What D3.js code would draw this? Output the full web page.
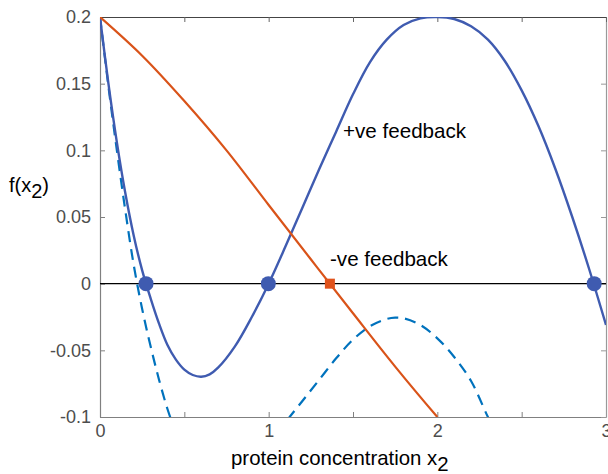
<!DOCTYPE html>
<html>
<head>
<meta charset="utf-8">
<script src="https://cdn.jsdelivr.net/npm/d3@7"></script>
<style>
  html, body { margin: 0; padding: 0; background: #fff; }
  svg { display: block; }
  text { font-family: "Liberation Sans", Arial, Helvetica, sans-serif; }
</style>
</head>
<body>
<svg id="chart" width="608" height="474"></svg>
<script>
// ---- data ----
const posX = [0, 0.05, 0.1, 0.15, 0.2, 0.25, 0.3, 0.35, 0.4, 0.45, 0.5, 0.55, 0.6, 0.65, 0.7, 0.8, 0.9, 1.0, 1.1, 1.2, 1.3, 1.4, 1.5, 1.6, 1.7, 1.8, 1.9, 2.0, 2.1, 2.2, 2.3, 2.4, 2.5, 2.6, 2.7, 2.8, 2.9, 3.0];
const posY = [0.2, 0.150, 0.106, 0.068, 0.036, 0.010, -0.011, -0.030, -0.046, -0.057, -0.0645, -0.0685, -0.0698, -0.068, -0.063, -0.047, -0.025, 0.0, 0.028, 0.057, 0.086, 0.114, 0.142, 0.166, 0.183, 0.194, 0.199, 0.200, 0.1985, 0.193, 0.183, 0.167, 0.145, 0.118, 0.086, 0.050, 0.011, -0.031];

const dashX1 = [0, 0.05, 0.1, 0.15, 0.2, 0.25, 0.3, 0.35, 0.4, 0.45];
const dashY1 = [0.2, 0.148, 0.100, 0.055, 0.014, -0.019, -0.047, -0.072, -0.094, -0.112];
const dashX2 = [1.05, 1.1, 1.2, 1.3, 1.4, 1.5, 1.6, 1.7, 1.75, 1.8, 1.9, 2.0, 2.1, 2.2, 2.3, 2.35];
const dashY2 = [-0.113, -0.104, -0.088, -0.072, -0.056, -0.042, -0.032, -0.0265, -0.0255, -0.026, -0.031, -0.041, -0.055, -0.073, -0.1, -0.112];

const negX = [0, 0.25, 0.5, 0.75, 1.0, 1.25, 1.5, 1.75, 2.0];
const negY = [0.2, 0.171, 0.137, 0.100, 0.059, 0.0183, -0.0222, -0.0622, -0.1];

const posFixedX = [0.273, 0.998, 2.93];
const negFixedX = [1.363];

const xTicks = [0, 0.5, 1, 1.5, 2, 2.5, 3];
const xTickLabels = ["0", "", "1", "", "2", "", "3"];
const yTicks = [0.2, 0.15, 0.1, 0.05, 0, -0.05, -0.1];
const yTickLabels = ["0.2", "0.15", "0.1", "0.05", "0", "-0.05", "-0.1"];

// ---- layout ----
const L = 100, R = 606, T = 17, B = 417;
const svg = d3.select("#chart");
const x = d3.scaleLinear().domain([0, 3]).range([L, R]);
const y = d3.scaleLinear().domain([-0.1, 0.2]).range([B, T]);

svg.append("defs").append("clipPath").attr("id", "clip")
  .append("rect").attr("x", L).attr("y", T).attr("width", R - L).attr("height", B - T);

// axes (box with inward ticks)
const tickColor = "#4d4d4d";
const gL = svg.append("g").attr("transform", `translate(${L},0)`)
  .call(d3.axisLeft(y).tickValues(yTicks).tickFormat((d, i) => yTickLabels[i])
        .tickSizeInner(-5).tickSizeOuter(0).tickPadding(9));
const gB = svg.append("g").attr("transform", `translate(0,${B})`)
  .call(d3.axisBottom(x).tickValues(xTicks).tickFormat((d, i) => xTickLabels[i])
        .tickSizeInner(-5).tickSizeOuter(0).tickPadding(5));
const gR = svg.append("g").attr("transform", `translate(${R},0)`)
  .call(d3.axisRight(y).tickValues(yTicks).tickFormat("")
        .tickSizeInner(-5).tickSizeOuter(0));
const gT = svg.append("g").attr("transform", `translate(0,${T})`)
  .call(d3.axisTop(x).tickValues(xTicks).tickFormat("")
        .tickSizeInner(-5).tickSizeOuter(0));

[gL, gB].forEach(g => {
  g.selectAll(".domain").attr("stroke", "#808080").attr("stroke-width", 1.2);
  g.selectAll(".tick line").attr("stroke", "#808080");
  g.selectAll(".tick text").attr("fill", tickColor).style("font-size", "18px")
    .attr("font-family", "Liberation Sans, Arial, sans-serif");
});
gT.selectAll(".domain").attr("stroke", "#444").attr("stroke-width", 1.2);
gT.selectAll(".tick line").attr("stroke", "#666");
gR.selectAll(".domain").attr("stroke", "#999").attr("stroke-width", 1.2);
gR.selectAll(".tick line").attr("stroke", "#999");
gB.selectAll(".tick text").attr("dy", "0.85em");

// plot content
const plot = svg.append("g").attr("clip-path", "url(#clip)");

plot.append("line")
  .attr("x1", x(0)).attr("x2", x(3)).attr("y1", y(0)).attr("y2", y(0))
  .attr("stroke", "#000").attr("stroke-width", 1.2);

const line = d3.line().x(d => x(d[0])).y(d => y(d[1])).curve(d3.curveCatmullRom.alpha(0.5));
const zip = (a, b) => a.map((v, i) => [v, b[i]]);

[zip(dashX1, dashY1), zip(dashX2, dashY2)].forEach(seg => {
  plot.append("path").datum(seg).attr("d", line)
    .attr("fill", "none").attr("stroke", "#0072BD").attr("stroke-width", 2.2)
    .attr("stroke-dasharray", "11,7");
});

plot.append("path").datum(zip(posX, posY)).attr("d", line)
  .attr("fill", "none").attr("stroke", "#3F5BB0").attr("stroke-width", 2.4);

plot.append("path").datum(zip(negX, negY)).attr("d", line)
  .attr("fill", "none").attr("stroke", "#D95319").attr("stroke-width", 2.2);

// fixed points
svg.selectAll("circle.fp").data(posFixedX).enter().append("circle")
  .attr("class", "fp").attr("cx", d => x(d)).attr("cy", y(0)).attr("r", 7.5)
  .attr("fill", "#3F5BB0");
svg.selectAll("rect.fp").data(negFixedX).enter().append("rect")
  .attr("class", "fp").attr("x", d => x(d) - 5).attr("y", y(0) - 5)
  .attr("width", 10).attr("height", 10).attr("fill", "#E0531C");

// annotations
svg.append("text").attr("x", 343).attr("y", 138).attr("font-size", 20.6).attr("fill", "#000")
  .text("+ve feedback");
svg.append("text").attr("x", 330).attr("y", 266).attr("font-size", 20.6).attr("fill", "#000")
  .text("-ve feedback");

// axis labels
const xl = svg.append("text").attr("x", 231).attr("y", 465).attr("font-size", 20.4).attr("fill", "#000");
xl.append("tspan").text("protein concentration x");
xl.append("tspan").attr("dy", 6).text("2");

const yl = svg.append("text").attr("x", 9).attr("y", 192).attr("font-size", 20).attr("fill", "#000");
yl.append("tspan").text("f(x");
yl.append("tspan").attr("dy", 6).text("2");
yl.append("tspan").attr("dy", -6).text(")");
</script>
</body>
</html>
